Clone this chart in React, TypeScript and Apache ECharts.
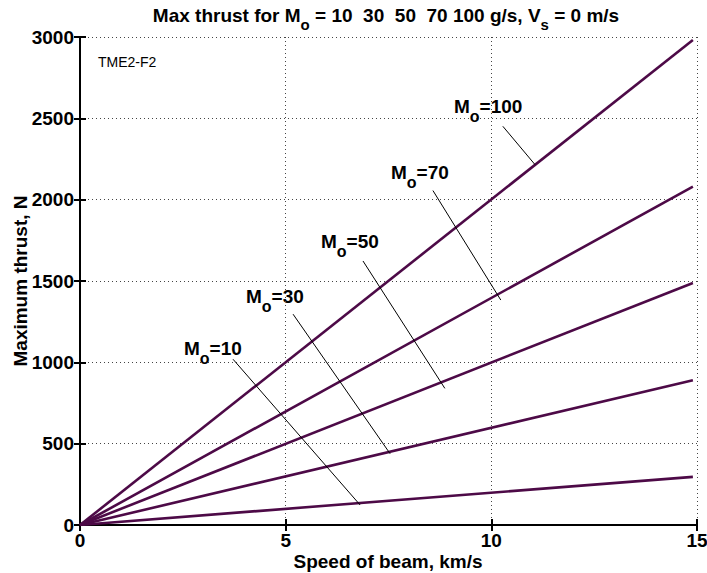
import React, { useEffect, useRef } from "react";
import * as echarts from "echarts";

// ---- data ----
const speedStart = 0;
const speedEnd = 14.9;
const massFlows = [10, 30, 50, 70, 100];
const thrustAtEnd = [296, 890, 1488, 2080, 2982];
const xTickInterval = 5;
const yTickInterval = 500;
// leader lines (data coordinates): from near label to the curve
const leaderStart = [
  [3.72, 1019],
  [5.18, 1296],
  [6.88, 1623],
  [8.58, 2056],
  [10.28, 2451],
];
const leaderEnd = [
  [6.81, 123],
  [7.54, 438],
  [8.87, 840],
  [10.23, 1383],
  [11.06, 2216],
];
// label anchor positions (pixels: left of "M", vertical centre)
const labelPos = [
  [184, 348],
  [246, 296],
  [321, 241],
  [391, 172],
  [454, 106],
];
const xAxisTitle = "Speed of beam, km/s";
const yAxisTitle = "Maximum thrust, N";

const FONT = "'Liberation Sans', Arial, sans-serif";
const LINE_COLOR = "#4d0a47";

function measure(text: string, font: string): number {
  const c = document.createElement("canvas").getContext("2d");
  if (!c) return text.length * 8;
  c.font = font;
  return c.measureText(text).width;
}

type Piece = { t: string; sub?: boolean; spaces?: number };

function buildText(
  pieces: Piece[],
  x0: number,
  yc: number,
  mainSize: number,
  subSize: number,
  subDy: number,
  center = false
) {
  const mainFont = `bold ${mainSize}px ${FONT}`;
  const subFont = `bold ${subSize}px ${FONT}`;
  const spaceW = measure(" ", mainFont);
  let total = 0;
  const widths: number[] = [];
  pieces.forEach((p) => {
    const w = measure(p.t, p.sub ? subFont : mainFont);
    widths.push(w);
    total += (p.spaces || 0) * spaceW + w;
  });
  let x = center ? x0 - total / 2 : x0;
  const els: any[] = [];
  pieces.forEach((p, i) => {
    x += (p.spaces || 0) * spaceW;
    els.push({
      type: "text",
      x,
      y: p.sub ? yc + subDy : yc,
      silent: true,
      style: {
        text: p.t,
        fill: "#000",
        font: p.sub ? subFont : mainFont,
        align: "left",
        verticalAlign: "middle",
      },
    });
    x += widths[i];
  });
  return els;
}

export default function App() {
  const ref = useRef<HTMLDivElement>(null);
  useEffect(() => {
    if (!ref.current) return;
    const chart = echarts.init(ref.current, null, { renderer: "svg" });

    const curveSeries = massFlows.map((m, i) => ({
      type: "line",
      name: `Mo=${m}`,
      data: [
        [speedStart, 0],
        [speedEnd, thrustAtEnd[i]],
      ],
      showSymbol: false,
      symbol: "none",
      lineStyle: { color: LINE_COLOR, width: 2.6 },
      silent: true,
      z: 3,
    }));
    const leaderSeries = massFlows.map((m, i) => ({
      type: "line",
      name: `leader${m}`,
      data: [leaderStart[i], leaderEnd[i]],
      symbol: "none",
      lineStyle: { color: "#000", width: 1 },
      silent: true,
      z: 4,
    }));

    const graphics: any[] = [];
    massFlows.forEach((m, i) => {
      graphics.push(
        ...buildText(
          [{ t: "M" }, { t: "o", sub: true }, { t: `=${m}` }],
          labelPos[i][0],
          labelPos[i][1],
          19,
          16,
          10
        )
      );
    });
    graphics.push(
      ...buildText(
        [
          { t: "Max thrust for M" },
          { t: "o", sub: true },
          { t: "= 10", spaces: 1 },
          { t: "30", spaces: 2 },
          { t: "50", spaces: 2 },
          { t: "70 100 g/s, V", spaces: 2 },
          { t: "s", sub: true },
          { t: "= 0 m/s", spaces: 1 },
        ],
        386,
        15,
        19,
        15,
        9,
        true
      )
    );
    graphics.push({
      type: "text",
      x: 98,
      y: 62,
      silent: true,
      style: {
        text: "TME2-F2",
        fill: "#000",
        font: `14px ${FONT}`,
        align: "left",
        verticalAlign: "middle",
      },
    });
    graphics.push({
      type: "text",
      x: 388,
      y: 561,
      silent: true,
      style: {
        text: xAxisTitle,
        fill: "#000",
        font: `bold 19px ${FONT}`,
        align: "center",
        verticalAlign: "middle",
      },
    });
    graphics.push({
      type: "text",
      x: 20,
      y: 281,
      rotation: Math.PI / 2,
      silent: true,
      style: {
        text: yAxisTitle,
        fill: "#000",
        font: `bold 19px ${FONT}`,
        align: "center",
        verticalAlign: "middle",
      },
    });

    const axisCommon = {
      axisLine: { show: true, lineStyle: { color: "#000", width: 2 } },
      axisTick: { show: true, inside: true, length: 6, lineStyle: { color: "#000", width: 2 } },
    };
    const labelStyle = {
      color: "#000",
      fontFamily: FONT,
      fontWeight: "bold",
      fontSize: 19,
    };

    chart.setOption({
      animation: false,
      backgroundColor: "#fff",
      grid: {
        left: 80,
        right: 10,
        top: 37,
        bottom: 48,
        containLabel: false,
        outerBoundsMode: "none",
      },
      xAxis: [
        {
          type: "value",
          min: 0,
          max: 15,
          interval: xTickInterval,
          ...axisCommon,
          axisLabel: { ...labelStyle, margin: 6, formatter: (v: number) => String(v) },
          splitLine: { show: true, lineStyle: { color: "#444", type: [1, 3], width: 1 } },
        },
        {
          type: "value",
          position: "top",
          min: 0,
          max: 15,
          interval: xTickInterval,
          ...axisCommon,
          axisLabel: { show: false },
          splitLine: { show: false },
        },
      ],
      yAxis: [
        {
          type: "value",
          min: 0,
          max: 3000,
          interval: yTickInterval,
          ...axisCommon,
          axisLabel: { ...labelStyle, margin: 6, formatter: (v: number) => String(v) },
          splitLine: { show: true, lineStyle: { color: "#444", type: [1, 3], width: 1 } },
        },
        {
          type: "value",
          position: "right",
          min: 0,
          max: 3000,
          interval: yTickInterval,
          ...axisCommon,
          axisLabel: { show: false },
          splitLine: { show: false },
        },
      ],
      series: [...curveSeries, ...leaderSeries],
      graphic: graphics,
    });

    return () => chart.dispose();
  }, []);

  return (
    <div
      ref={ref}
      style={{ position: "fixed", left: 0, top: 0, width: 707, height: 573, background: "#fff" }}
    />
  );
}
